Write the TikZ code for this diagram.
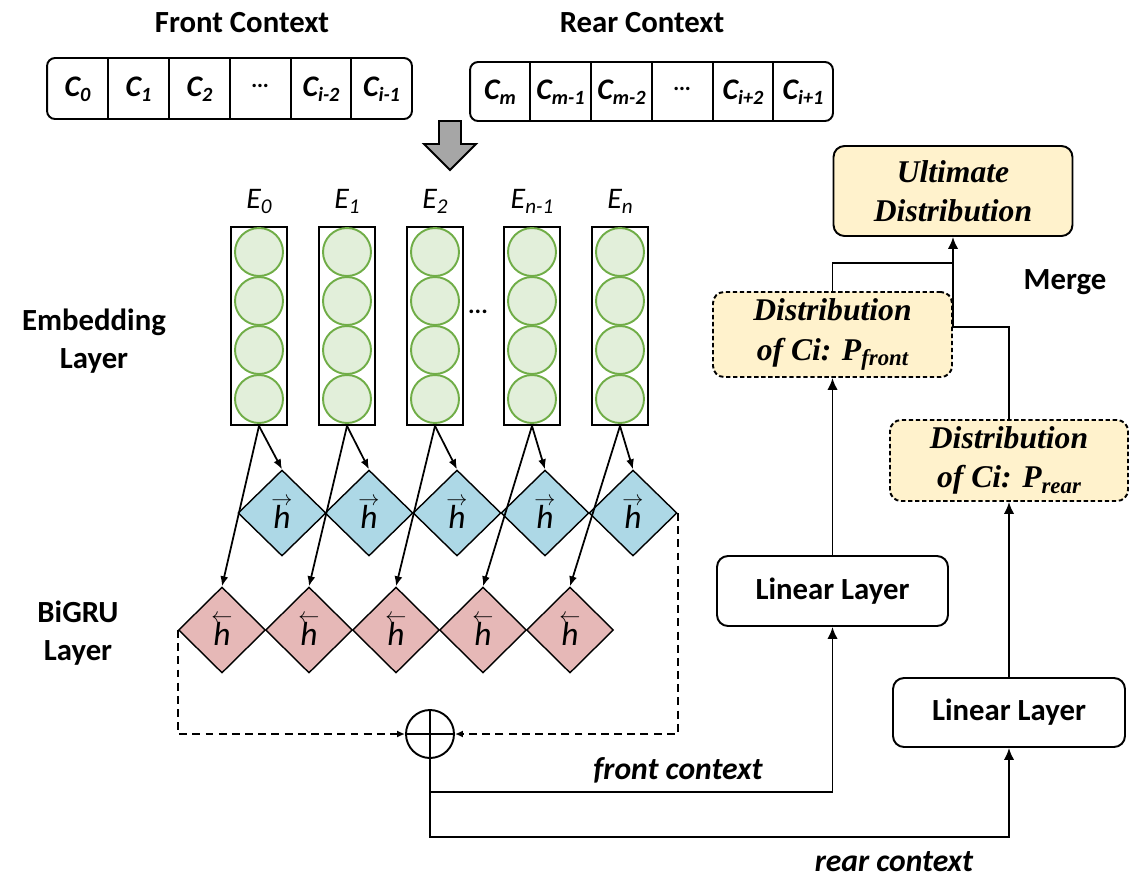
\documentclass[tikz,border=0pt]{standalone}
\usepackage{fontspec}
\setmainfont{Carlito}
\newfontfamily\tnr{Liberation Serif}
\usetikzlibrary{shapes.geometric,arrows.meta}
\definecolor{gfill}{HTML}{E2EFDA}
\definecolor{gline}{HTML}{70AD47}
\definecolor{bfill}{HTML}{ADD8E6}
\definecolor{pfill}{HTML}{E6B8B7}
\definecolor{yfill}{HTML}{FFF2CC}
\definecolor{afill}{HTML}{A6A6A6}
\newcommand\lowsub[2][10]{\raisebox{-3pt}{\fontsize{#1}{#1}\selectfont #2}}
\newcommand\cc[1]{C\lowsub[11.5]{#1}}
\newcommand\ee[1]{E\lowsub[12]{#1}}
\newcommand\hfwd{{\fontsize{13}{13}\selectfont$\rightarrow$}\\[-6pt]\textit{h}}
\newcommand\hbwd{{\fontsize{13}{13}\selectfont$\leftarrow$}\\[-6pt]\textit{h}}
\begin{document}
\begin{tikzpicture}[x=0.02cm,y=-0.02cm,
  lbl/.style={font=\fontsize{17.5}{21.5}\selectfont\bfseries, align=center, inner sep=0},
  ital/.style={font=\fontsize{18}{21}\selectfont\bfseries\itshape, inner sep=0},
  cell/.style={font=\fontsize{17}{17}\selectfont\bfseries\itshape, inner sep=0},
  elbl/.style={font=\fontsize{17}{17}\selectfont\itshape, inner sep=0, anchor=base},
  ctxbox/.style={draw, line width=1.1pt, rounded corners=0.16cm, inner sep=0},
  emb/.style={draw, line width=1.1pt, minimum width=1.12cm, minimum height=3.96cm, inner sep=0},
  unit/.style={circle, draw=gline, fill=gfill, line width=1.1pt, minimum size=0.96cm, inner sep=0},
  fwd/.style={diamond, draw, fill=bfill, line width=0.8pt, minimum width=1.76cm, minimum height=1.72cm, inner sep=0, align=center, font=\fontsize{19}{19}\selectfont},
  bwd/.style={diamond, draw, fill=pfill, line width=0.8pt, minimum width=1.74cm, minimum height=1.72cm, inner sep=0, align=center, font=\fontsize{19}{19}\selectfont},
  conn/.style={line width=1.1pt, -{Latex[length=0.24cm,width=0.21cm]}},
  thin/.style={line width=1.0pt, -{Latex[length=0.2cm,width=0.16cm]}},
  dconn/.style={line width=1.1pt, dash pattern=on 4.5pt off 3pt, -{Latex[length=0.16cm,width=0.14cm]}},
  layerbox/.style={draw, line width=1.1pt, rounded corners=0.22cm, inner sep=0, font=\fontsize{17.5}{21}\selectfont\bfseries},
  distbox/.style={draw, fill=yfill, line width=1.1pt, rounded corners=0.22cm, inner sep=0, align=center, font=\tnr\fontsize{18}{22.5}\selectfont\bfseries\itshape},
  dashbox/.style={distbox, dash pattern=on 2.5pt off 1.5pt},
  sumnode/.style={circle, draw, line width=1.1pt, minimum size=0.96cm, inner sep=0}
]
\useasboundingbox (0,0) rectangle (1137,880);

% titles
\node[lbl] (ftitle) at (242,23) {Front Context};
\node[lbl] (rtitle) at (642,23) {Rear Context};

% front context box
\node[ctxbox, minimum width=7.3cm, minimum height=1.22cm] (fbox) at (229.5,88.5) {};
\foreach \x in {108,169,230,291,351} \draw[line width=1.1pt] (\x,58) -- (\x,119);
\node[cell] (f0) at (77.5,89) {\cc{0}};
\node[cell] (f1) at (138.5,89) {\cc{1}};
\node[cell] (f2) at (199.5,89) {\cc{2}};
\node[cell] (f3) at (260.5,86) {\fontsize{13}{13}\selectfont\ldots};
\node[cell] (f4) at (321,89) {\cc{i-2}};
\node[cell] (f5) at (381.5,89) {\cc{i-1}};

% rear context box
\node[ctxbox, minimum width=7.26cm, minimum height=1.18cm] (rbox) at (651.5,91.5) {};
\foreach \x in {530,591,652,713,773} \draw[line width=1.1pt] (\x,62) -- (\x,121);
\node[cell] (r0) at (500,92) {\cc{m}};
\node[cell] (r1) at (560.5,92) {\cc{m-1}};
\node[cell] (r2) at (621.5,92) {\cc{m-2}};
\node[cell] (r3) at (682.5,89) {\fontsize{13}{13}\selectfont\ldots};
\node[cell] (r4) at (743,92) {\cc{i+2}};
\node[cell] (r5) at (803,92) {\cc{i+1}};

% block arrow
\draw[fill=afill, line width=1.1pt, line join=miter] (439,121) -- (461,121) -- (461,144) -- (476,144) -- (450,170) -- (424,144) -- (439,144) -- cycle;

% embedding columns
\foreach \i/\x/\t in {0/259/0, 1/347/1, 2/435/2, 3/532/n-1, 4/620/n} {
  \node[elbl] (E\i) at (\x,208) {\ee{\t}};
  \node[emb] (e\i) at (\x,326) {};
  \foreach \j/\y in {1/252,2/301,3/350,4/399}
    \node[unit] (u\i\j) at (\x,\y) {};
}
\node[font=\fontsize{14}{14}\selectfont\bfseries, inner sep=0] (edots) at (478,312) {...};

% left labels
\node[lbl] (emblbl) at (94,341) {Embedding\\Layer};
\node[lbl] (grulbl) at (78,633) {BiGRU\\Layer};

% diamonds
\foreach \i/\x in {0/282,1/369,2/457,3/545,4/633}
  \node[fwd] (b\i) at (\x,513) {\hfwd};
\foreach \i/\x in {0/222,1/309,2/396,3/483,4/570}
  \node[bwd] (p\i) at (\x,630) {\hbwd};

% embedding -> diamonds
\foreach \i in {0,...,4} {
  \draw[thin] (e\i.south) -- (b\i.north);
  \draw[thin] (e\i.south) -- (p\i.north);
}

% sum
\node[sumnode] (sum) at (430,734) {};
\draw[line width=1.1pt] (sum.north) -- (sum.south) (sum.west) -- (sum.east);
\draw[dconn] (p0.west) |- (sum.west);
\draw[dconn] (b4.east) |- (sum.east);

% right part
\node[layerbox, minimum width=4.62cm, minimum height=1.4cm] (ll1) at (832.5,591) {Linear Layer};
\node[layerbox, minimum width=4.64cm, minimum height=1.38cm] (ll2) at (1009,712.5) {Linear Layer};
\node[distbox, minimum width=4.78cm, minimum height=1.8cm] (ult) at (953,191) {Ultimate\\Distribution};
\node[dashbox, minimum width=4.78cm, minimum height=1.7cm] (df) at (832.5,334.5) {Distribution\\of Ci: P\lowsub[13]{front}};
\node[dashbox, minimum width=4.76cm, minimum height=1.62cm] (dr) at (1009,460.5) {Distribution\\of Ci: P\lowsub[13]{rear}};
\node[lbl] (merge) at (1065,282) {Merge};

\coordinate (fk) at (430,792);
\coordinate (rk) at (430,837);
\draw[conn] (sum.south) -- (fk) -| (ll1.south);
\draw[conn] (fk) -- (rk) -| (ll2.south);
\draw[conn] (ll1.north) -- (df.south);
\draw[conn] (ll2.north) -- (dr.south);

\coordinate (m1) at (953,263);
\coordinate (m2) at (953,327);
\draw[line width=1.1pt] (df.north) |- (m1);
\draw[line width=1.1pt] (dr.north) |- (m2) -- (m1);
\draw[conn] (m1) -- (ult.south);

\node[ital] (fctx) at (678,770) {front context};
\node[ital] (rctx) at (894,862) {rear context};
\end{tikzpicture}
\end{document}
